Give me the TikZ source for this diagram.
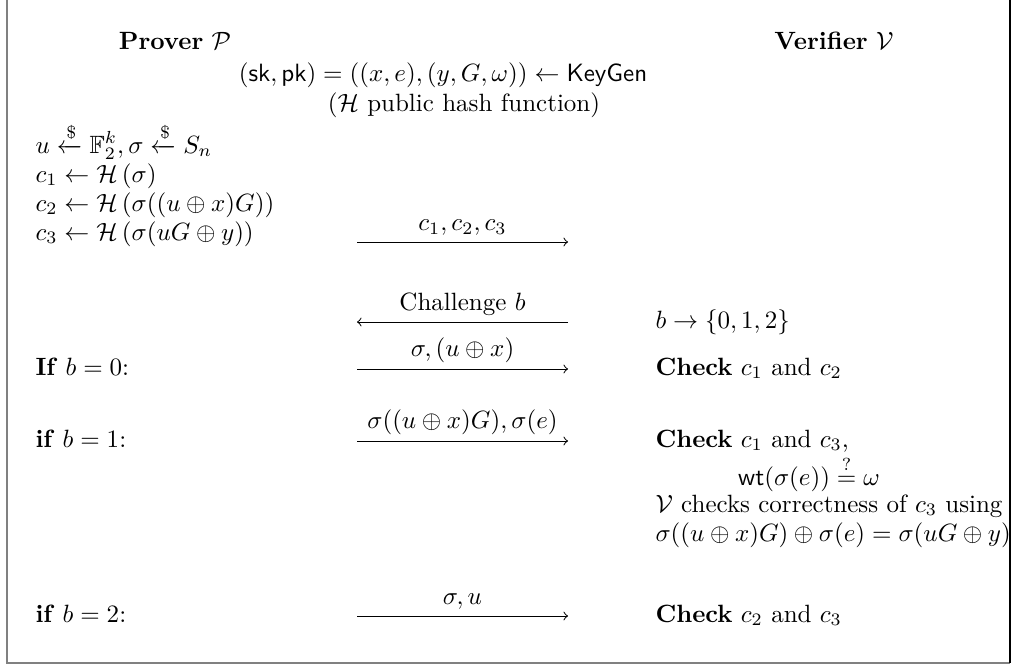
\documentclass[tikz,border=0pt]{standalone}
\usepackage{amsmath,amssymb}
\begin{document}
\begin{tikzpicture}[x=0.4pt,y=-0.4pt,
  txt/.style={anchor=base west,inner sep=0pt},
  ctr/.style={anchor=base,inner sep=0pt},
  msg/.style={-to,line width=0.4pt},
  lab/.style={above=-1pt},
  frameg/.style={draw=black!50,line width=0.8pt},
  framek/.style={draw=black,line width=0.8pt}]
\useasboundingbox (0,0) rectangle (1014,668);
\draw[frameg] (7,0) -- (7,663) -- (1010,663);
\draw[framek] (1010,0) -- (1010,663);
% headers
\node[ctr] (prover) at (175,49) {\textbf{Prover} $\mathcal{P}$};
\node[ctr] (verifier) at (834,49) {\textbf{Verifier} $\mathcal{V}$};
\node[ctr] (keys) at (443,81) {$(\mathsf{sk},\mathsf{pk})=((x,e),(y,G,\omega))\leftarrow\mathsf{KeyGen}$};
\node[ctr] (hash) at (464,111) {($\mathcal{H}$ public hash function)};
% prover commitments
\node[txt] (u) at (35,153) {$u\xleftarrow{\$}\mathbb{F}_2^k,\sigma\xleftarrow{\$}S_n$};
\node[txt] (c1) at (35,182) {$c_1\leftarrow\mathcal{H}\left(\sigma\right)$};
\node[txt] (c2) at (35,211) {$c_2\leftarrow\mathcal{H}\left(\sigma((u\oplus x)G)\right)$};
\node[txt] (c3) at (35,240) {$c_3\leftarrow\mathcal{H}\left(\sigma(uG\oplus y)\right)$};
% arrow 1
\coordinate (a1l) at (357,242);
\coordinate (a1r) at (568,242);
\draw[msg] (a1l) -- node[lab] (m1) {$c_1,c_2,c_3$} (a1r);
% challenge
\coordinate (a2l) at (357,322);
\coordinate (a2r) at (568,322);
\draw[msg] (a2r) -- node[lab] (m2) {Challenge $b$} (a2l);
\node[txt] (bset) at (655,328) {$b\rightarrow\{0,1,2\}$};
% b = 0
\node[txt] (if0) at (35,375) {\textbf{If} $b=0$:};
\coordinate (a3l) at (357,369);
\coordinate (a3r) at (568,369);
\draw[msg] (a3l) -- node[lab] (m3) {$\sigma,(u\oplus x)$} (a3r);
\node[txt] (chk0) at (655,375) {\textbf{Check} $c_1$ and $c_2$};
% b = 1
\node[txt] (if1) at (35,447) {\textbf{if} $b=1$:};
\coordinate (a4l) at (357,441);
\coordinate (a4r) at (568,441);
\draw[msg] (a4l) -- node[lab] (m4) {$\sigma((u\oplus x)G),\sigma(e)$} (a4r);
\node[txt] (chk1) at (655,447) {\textbf{Check} $c_1$ and $c_3$,};
\node[ctr] (wt) at (809,485) {$\mathsf{wt}(\sigma(e))\stackrel{?}{=}\omega$};
\node[txt] (vchk) at (655,512) {$\mathcal{V}$ checks correctness of $c_3$ using};
\node[txt] (eq) at (655,541) {$\sigma((u\oplus x)G)\oplus\sigma(e)=\sigma(uG\oplus y)$};
% b = 2
\node[txt] (if2) at (35,622) {\textbf{if} $b=2$:};
\coordinate (a5l) at (357,616);
\coordinate (a5r) at (568,616);
\draw[msg] (a5l) -- node[lab] (m5) {$\sigma,u$} (a5r);
\node[txt] (chk2) at (655,622) {\textbf{Check} $c_2$ and $c_3$};
\end{tikzpicture}
\end{document}
